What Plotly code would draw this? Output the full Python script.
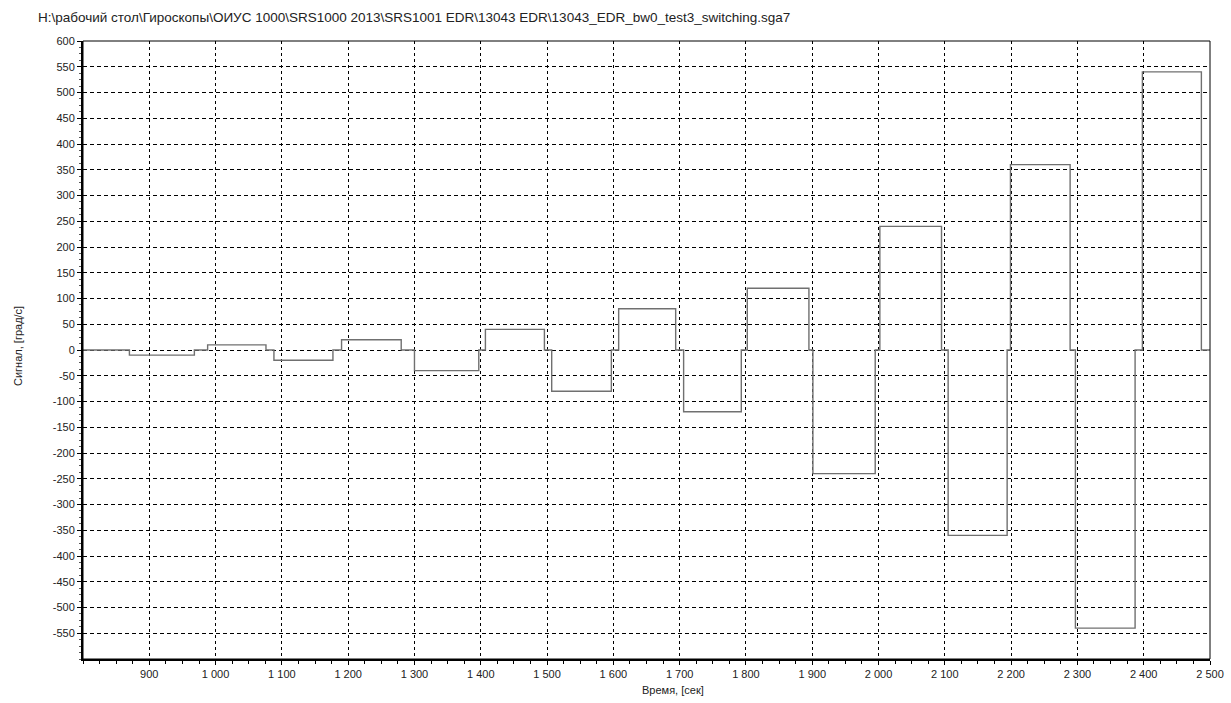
import plotly.graph_objects as go

# Gyro switching test: rate command steps, seconds vs deg/s
step_start = [870, 988, 1088, 1190, 1300, 1407, 1507, 1608, 1706, 1802,
              1901, 2002, 2105, 2199, 2297, 2398]
step_end = [968, 1076, 1177, 1280, 1397, 1496, 1597, 1694, 1793, 1895,
            1995, 2095, 2194, 2289, 2387, 2487]
step_level = [-10, 10, -20, 20, -40, 40, -80, 80, -120, 120,
              -240, 240, -360, 360, -540, 540]
t_begin, t_end = 800, 2500

x_ticks = list(range(900, 2501, 100))
x_ticktext = [f"{v:,}".replace(",", " ") for v in x_ticks]
y_ticks = list(range(-550, 601, 50))
y_ticktext = [str(v) for v in y_ticks]

title_text = ("H:\\рабочий стол\\Гироскопы\\ОИУС 1000\\SRS1000 2013\\SRS1001 EDR"
              "\\13043 EDR\\13043_EDR_bw0_test3_switching.sga7")

# Build the step waveform: baseline 0 between rate steps
xs, ys = [t_begin], [0]
for s, e, lvl in zip(step_start, step_end, step_level):
    xs += [s, s, e, e]
    ys += [0, lvl, lvl, 0]
xs.append(t_end)
ys.append(0)

FONT = "Liberation Sans, Arial, sans-serif"

fig = go.Figure()
fig.add_trace(go.Scatter(
    x=xs, y=ys, mode="lines",
    line=dict(color="#707070", width=1.4),
    hoverinfo="skip", showlegend=False,
))

fig.update_layout(
    width=1231, height=703,
    margin=dict(l=83, r=21, t=41, b=44, autoexpand=False),
    paper_bgcolor="white", plot_bgcolor="white",
    font=dict(family=FONT, size=11, color="#222222"),
    showlegend=False,
    hovermode=False,
)

fig.update_xaxes(
    range=[t_begin, t_end],
    tickmode="array", tickvals=x_ticks, ticktext=x_ticktext,
    showgrid=True, gridcolor="black", gridwidth=1, griddash="3px,3px",
    zeroline=False,
    showline=True, linecolor="black", linewidth=2, mirror=False,
    ticks="outside", ticklen=4, tickcolor="black", tickwidth=1,
    minor=dict(dtick=25, tick0=800, ticks="outside", ticklen=3,
               tickcolor="black", showgrid=False),
    tickfont=dict(size=11, color="#222222"),
    automargin=False,
)
fig.update_yaxes(
    range=[-600, 600],
    tickmode="array", tickvals=y_ticks, ticktext=y_ticktext,
    showgrid=True, gridcolor="black", gridwidth=1, griddash="4px,3px",
    zeroline=False,
    showline=True, linecolor="black", linewidth=2, mirror=False,
    ticks="outside", ticklen=4, tickcolor="black", tickwidth=1,
    minor=dict(dtick=12.5, tick0=0, ticks="outside", ticklen=2,
               tickcolor="#555555", showgrid=False),
    tickfont=dict(size=11, color="#222222"),
    automargin=False,
)

# thin frame on top and right
fig.add_shape(type="rect", xref="paper", yref="paper", x0=0, x1=1, y0=0, y1=1,
              line=dict(color="black", width=1), layer="above")

fig.add_annotation(text=title_text, xref="paper", yref="paper",
                   x=(36 - 83) / 1127, y=1 + 24 / 618, xanchor="left", yanchor="middle",
                   showarrow=False, font=dict(family=FONT, size=13.5, color="#222222"))
fig.add_annotation(text="Время, [сек]", xref="paper", yref="paper",
                   x=(673 - 83) / 1127, y=-31 / 618, xanchor="center", yanchor="middle",
                   showarrow=False, font=dict(family=FONT, size=11, color="#222222"))
fig.add_annotation(text="Сигнал, [град/с]", xref="paper", yref="paper",
                   x=-(83 - 18) / 1127, y=(659 - 346) / 618, xanchor="center",
                   yanchor="middle", textangle=-90,
                   showarrow=False, font=dict(family=FONT, size=11, color="#222222"))

fig.write_html("out.html")
